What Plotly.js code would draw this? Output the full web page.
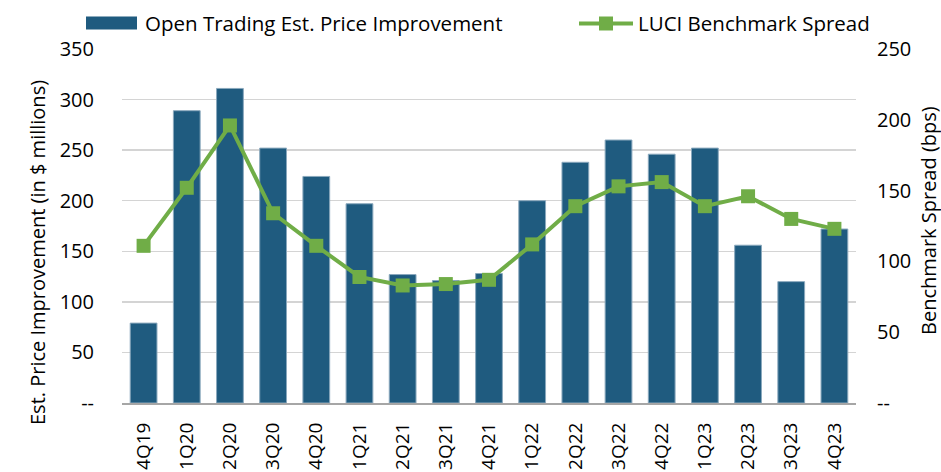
<!DOCTYPE html>
<html>
<head>
<meta charset="utf-8">
<script src="https://cdn.plot.ly/plotly-3.0.1.min.js"></script>
<style>html,body{margin:0;padding:0;background:#fff;}#chart{width:941px;height:472px;}</style>
</head>
<body>
<div id="chart"></div>
<script>
const quarters = ['4Q19','1Q20','2Q20','3Q20','4Q20','1Q21','2Q21','3Q21','4Q21','1Q22','2Q22','3Q22','4Q22','1Q23','2Q23','3Q23','4Q23'];
const priceImprovement = [79, 289, 311, 252, 224, 197, 127, 121, 128, 200, 238, 260, 246, 252, 156, 120, 172];
const benchmarkSpread = [111, 152, 196, 134, 111, 89, 83, 84, 87, 112, 139, 153, 156, 139, 146, 130, 123];
const leftTickVals = [0, 50, 100, 150, 200, 250, 300, 350];
const leftTickText = ['--', '50', '100', '150', '200', '250', '300', '350'];
const rightTickVals = [0, 50, 100, 150, 200, 250];
const rightTickText = ['--', '50', '100', '150', '200', '250'];
const barName = 'Open Trading Est. Price Improvement';
const lineName = 'LUCI Benchmark Spread';
const leftTitle = 'Est. Price Improvement (in $ millions)';
const rightTitle = 'Benchmark Spread (bps)';

const FONT = '"Open Sans", Lato, sans-serif';
const BAR = '#1F5B7F';
const GREEN = '#70AD47';

// plot area in pixels: x 122..856, y 49..403
const L = 122, R = 856, T = 49, B = 403;
const px = v => (v - L) / (R - L);
const py = v => (B - v) / (B - T);

const traces = [
  {
    type: 'bar',
    name: barName,
    x: quarters,
    y: priceImprovement,
    marker: {color: BAR, line: {color: '#8aa8bd', width: 1}},
    yaxis: 'y',
    showlegend: false
  },
  {
    type: 'scatter',
    mode: 'lines+markers',
    name: lineName,
    x: quarters,
    y: benchmarkSpread,
    line: {color: GREEN, width: 4},
    marker: {symbol: 'square', size: 14, color: GREEN},
    yaxis: 'y2',
    showlegend: false
  }
];

const layout = {
  width: 941,
  height: 472,
  margin: {l: L, r: 941 - R, t: T, b: 472 - B},
  paper_bgcolor: '#ffffff',
  plot_bgcolor: '#ffffff',
  font: {family: FONT, size: 20, color: '#000000'},
  bargap: 0.38,
  showlegend: false,
  xaxis: {
    type: 'category',
    range: [-0.5, quarters.length - 0.5],
    tickangle: -90,
    tickfont: {family: FONT, size: 19, color: '#000'},
    ticklabelstandoff: 10,
    showline: true,
    linecolor: '#a6a6a6',
    linewidth: 2,
    ticks: '',
    showgrid: false,
    automargin: false
  },
  yaxis: {
    range: [0, 350],
    tickvals: leftTickVals,
    ticktext: leftTickText,
    showgrid: true,
    gridcolor: '#d4d4d4',
    gridwidth: 1.5,
    zeroline: false,
    ticks: '',
    ticklabelstandoff: 27,
    tickfont: {family: FONT, size: 20, color: '#000'},
    automargin: false
  },
  yaxis2: {
    range: [0, 250],
    overlaying: 'y',
    side: 'right',
    tickvals: rightTickVals,
    ticktext: rightTickText,
    showgrid: false,
    zeroline: false,
    ticks: '',
    ticklabelstandoff: 20,
    tickfont: {family: FONT, size: 20, color: '#000'},
    automargin: false
  },
  shapes: [
    {type: 'rect', xref: 'paper', yref: 'paper', x0: px(86), x1: px(137), y0: py(29.5), y1: py(16.5), fillcolor: BAR, line: {width: 0}},
    {type: 'line', xref: 'paper', yref: 'paper', x0: px(579), x1: px(633), y0: py(23.5), y1: py(23.5), line: {color: GREEN, width: 4}},
    {type: 'rect', xref: 'paper', yref: 'paper', x0: px(599), x1: px(613), y0: py(30.5), y1: py(16.5), fillcolor: GREEN, line: {width: 0}}
  ],
  annotations: [
    {text: barName, xref: 'paper', yref: 'paper', x: px(143), y: py(23), xanchor: 'left', yanchor: 'middle', showarrow: false, font: {family: FONT, size: 20.5, color: '#000'}},
    {text: lineName, xref: 'paper', yref: 'paper', x: px(636), y: py(23), xanchor: 'left', yanchor: 'middle', showarrow: false, font: {family: FONT, size: 20.5, color: '#000'}},
    {text: leftTitle, xref: 'paper', yref: 'paper', x: px(37), y: py(253), xanchor: 'center', yanchor: 'middle', textangle: -90, showarrow: false, font: {family: FONT, size: 20, color: '#000'}},
    {text: rightTitle, xref: 'paper', yref: 'paper', x: px(928), y: py(220), xanchor: 'center', yanchor: 'middle', textangle: -90, showarrow: false, font: {family: FONT, size: 20, color: '#000'}}
  ]
};

Plotly.newPlot('chart', traces, layout, {displayModeBar: false, staticPlot: true});
</script>
</body>
</html>
